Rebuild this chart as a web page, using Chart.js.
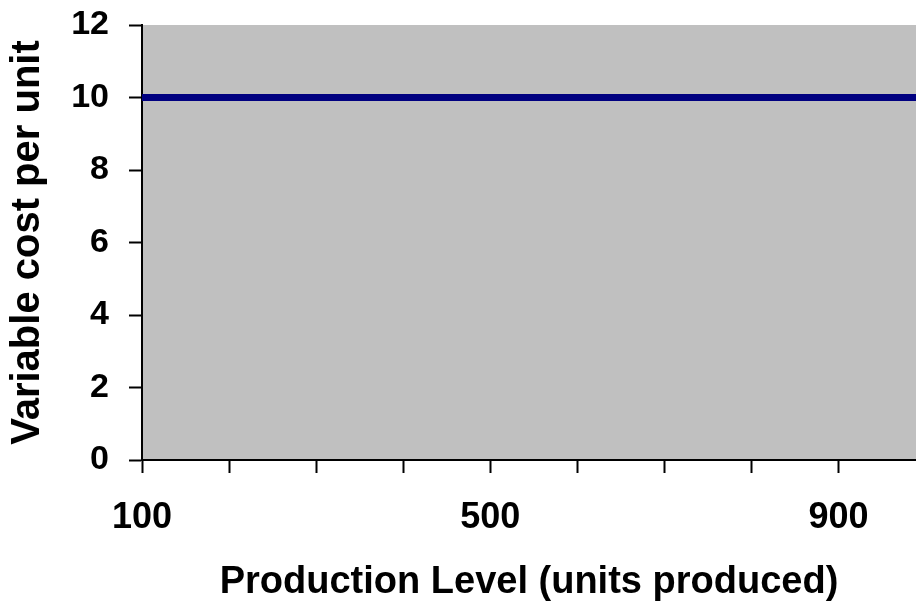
<!DOCTYPE html>
<html>
<head>
<meta charset="utf-8">
<script src="https://cdn.jsdelivr.net/npm/chart.js@4.4.1/dist/chart.umd.min.js"></script>
<style>
  html, body { margin: 0; padding: 0; background: #ffffff; }
  #wrap { width: 916px; height: 605px; }
</style>
</head>
<body>
<div id="wrap"><canvas id="chart" width="916" height="605"></canvas></div>
<script>
// Production levels (units produced) and variable cost per unit at each level
const productionLevels = [100, 200, 300, 400, 500, 600, 700, 800, 900, 1000];
const variableCostPerUnit = [10, 10, 10, 10, 10, 10, 10, 10, 10, 10];
const labeledLevels = [100, 500, 900];
const yTicks = [0, 2, 4, 6, 8, 10, 12];

const points = productionLevels.map((x, i) => ({ x: x, y: variableCostPerUnit[i] }));

// Fill the plotting area with a flat grey
const plotBackground = {
  id: 'plotBackground',
  beforeDraw(chart) {
    const { ctx, chartArea: a } = chart;
    ctx.save();
    ctx.fillStyle = '#C0C0C0';
    ctx.fillRect(a.left, a.top, a.right - a.left, a.bottom - a.top);
    ctx.restore();
  }
};

const fontFamily = '"Liberation Sans", Arial, sans-serif';

new Chart(document.getElementById('chart'), {
  type: 'line',
  data: {
    datasets: [{
      data: points,
      borderColor: '#000080',
      borderWidth: 7,
      pointRadius: 0,
      fill: false,
      tension: 0
    }]
  },
  options: {
    responsive: false,
    animation: false,
    events: [],
    layout: { padding: { top: 25, right: 0, left: 0, bottom: 0 } },
    plugins: { legend: { display: false }, tooltip: { enabled: false } },
    scales: {
      x: {
        type: 'linear',
        min: 100,
        max: 989,
        afterFit(scale) { scale.height = 145; scale.paddingRight = 0; },
        afterBuildTicks(scale) {
          scale.ticks = productionLevels.filter(v => v <= scale.max).map(v => ({ value: v }));
        },
        border: { display: true, color: '#000000', width: 2 },
        grid: {
          display: true,
          drawOnChartArea: false,
          drawTicks: true,
          tickLength: 13,
          tickWidth: 2,
          tickColor: '#000000'
        },
        ticks: {
          autoSkip: false,
          maxRotation: 0,
          padding: 23,
          color: '#000000',
          font: { family: fontFamily, size: 36, weight: 'bold' },
          callback: (v) => labeledLevels.includes(v) ? String(v) : ''
        },
        title: {
          display: true,
          text: 'Production Level (units produced)',
          color: '#000000',
          font: { family: fontFamily, size: 38, weight: 'bold' },
          padding: { top: 0, bottom: 0 }
        }
      },
      y: {
        min: 0,
        max: 12,
        afterFit(scale) { scale.width = 142; scale.paddingTop = 0; scale.paddingBottom = 0; },
        afterBuildTicks(scale) {
          scale.ticks = yTicks.map(v => ({ value: v }));
        },
        border: { display: true, color: '#000000', width: 2 },
        grid: {
          display: true,
          drawOnChartArea: false,
          drawTicks: true,
          tickLength: 13,
          tickWidth: 2,
          tickColor: '#000000'
        },
        ticks: {
          padding: 20,
          color: '#000000',
          font: { family: fontFamily, size: 34, weight: 'bold' }
        },
        title: {
          display: true,
          text: 'Variable cost per unit',
          color: '#000000',
          font: { family: fontFamily, size: 40, weight: 'bold' },
          padding: { top: 4, bottom: 0 }
        }
      }
    }
  },
  plugins: [plotBackground]
});
</script>
</body>
</html>
